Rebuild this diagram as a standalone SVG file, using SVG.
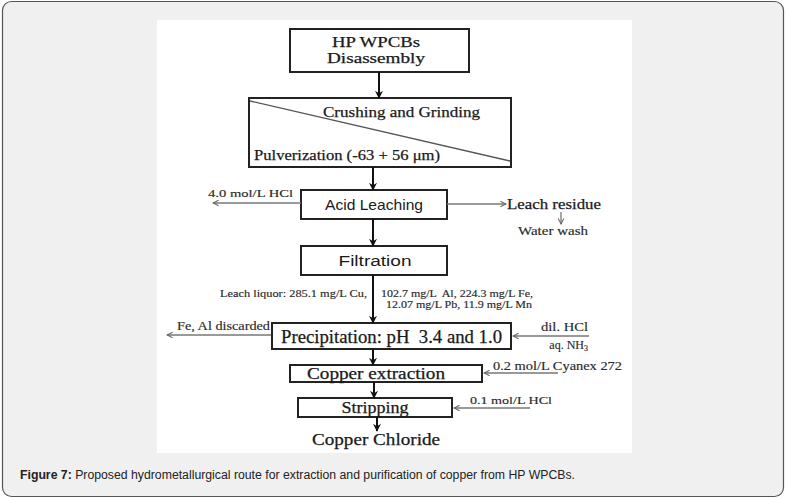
<svg xmlns="http://www.w3.org/2000/svg" width="786" height="499" viewBox="0 0 786 499">
<defs>
<marker id="ah" viewBox="0 0 10 10" refX="9" refY="5" markerWidth="8" markerHeight="8" markerUnits="userSpaceOnUse" orient="auto">
<path d="M0,0 L10,5 L0,10 L3,5 Z" fill="#111"/>
</marker>
<marker id="oh" viewBox="0 0 10 10" refX="9" refY="5" markerWidth="7" markerHeight="7" markerUnits="userSpaceOnUse" orient="auto">
<path d="M1,1 L9,5 L1,9" fill="none" stroke="#666" stroke-width="1.5"/>
</marker>
<style>
.box{fill:#fff;stroke:#222;stroke-width:2}
.main{stroke:#111;stroke-width:2;fill:none;marker-end:url(#ah)}
.side{stroke:#777;stroke-width:1.3;fill:none;marker-end:url(#oh)}
.ser{font-family:"Liberation Serif","DejaVu Serif",serif;fill:#1a1a1a;stroke:#1a1a1a;stroke-width:0.25}
.sans{font-family:"Liberation Sans","DejaVu Sans",sans-serif;fill:#1a1a1a}
.sm{font-family:"Liberation Serif","DejaVu Serif",serif;fill:#2a2a2a;stroke:#2a2a2a;stroke-width:0.15}
</style>
</defs>
<rect x="2.5" y="1.5" width="781" height="495" rx="9" fill="#f0f0f0" stroke="#555" stroke-width="1.2"/>
<rect x="157" y="20" width="475" height="433" fill="#fff"/>

<g id="n1">
<rect class="box" x="290" y="29" width="179" height="43"/>
<text class="ser" x="376" y="47" font-size="14.5" text-anchor="middle" textLength="88" lengthAdjust="spacingAndGlyphs">HP WPCBs</text>
<text class="ser" x="376" y="63" font-size="14.5" text-anchor="middle" textLength="98" lengthAdjust="spacingAndGlyphs">Disassembly</text>
</g>
<g id="n2">
<rect class="box" x="249" y="98" width="262" height="69"/>
<line x1="250" y1="101" x2="510" y2="161" stroke="#555" stroke-width="1.3"/>
<text class="ser" x="323" y="117" font-size="15.5" textLength="157" lengthAdjust="spacingAndGlyphs">Crushing and Grinding</text>
<text class="ser" x="254" y="160" font-size="15.5" textLength="186" lengthAdjust="spacingAndGlyphs">Pulverization (-63 + 56 μm)</text>
</g>
<g id="n3">
<rect class="box" x="301" y="190" width="146" height="29"/>
<text class="sans" x="374" y="210" font-size="14.5" text-anchor="middle" textLength="98" lengthAdjust="spacingAndGlyphs">Acid Leaching</text>
</g>
<g id="n4">
<rect class="box" x="301" y="246" width="146" height="29"/>
<text class="sans" x="375" y="266" font-size="15.5" text-anchor="middle" textLength="73" lengthAdjust="spacingAndGlyphs">Filtration</text>
</g>
<g id="n5">
<rect class="box" x="272" y="323" width="239" height="26"/>
<text class="ser" x="281" y="343" font-size="18" textLength="221" lengthAdjust="spacingAndGlyphs" xml:space="preserve">Precipitation: pH  3.4 and 1.0</text>
</g>
<g id="n6">
<rect class="box" x="290" y="365" width="192" height="17"/>
<text class="ser" x="307" y="379" font-size="16" textLength="138" lengthAdjust="spacingAndGlyphs">Copper extraction</text>
</g>
<g id="n7">
<rect class="box" x="298" y="398" width="154" height="19"/>
<text class="ser" x="375" y="413" font-size="16" text-anchor="middle" textLength="67" lengthAdjust="spacingAndGlyphs">Stripping</text>
</g>
<g id="n8">
<text class="ser" x="376" y="445" font-size="16.5" text-anchor="middle" textLength="128" lengthAdjust="spacingAndGlyphs">Copper Chloride</text>
</g>

<g id="labels">
<text class="sm" x="208" y="197" font-size="11" textLength="85" lengthAdjust="spacingAndGlyphs">4.0 mol/L HCl</text>
<text class="ser" x="507" y="209" font-size="14.5" textLength="94" lengthAdjust="spacingAndGlyphs">Leach residue</text>
<text class="sm" x="553" y="235" font-size="11.5" text-anchor="middle" stroke-width="0.4" textLength="70" lengthAdjust="spacingAndGlyphs">Water wash</text>
<text class="sm" x="367" y="297" font-size="10" text-anchor="end" textLength="147" lengthAdjust="spacingAndGlyphs">Leach liquor: 285.1 mg/L Cu,</text>
<text class="sm" x="381" y="297" font-size="10" textLength="152" lengthAdjust="spacingAndGlyphs" xml:space="preserve">102.7 mg/L  Al, 224.3 mg/L Fe,</text>
<text class="sm" x="386" y="308" font-size="10" textLength="146" lengthAdjust="spacingAndGlyphs">12.07 mg/L Pb, 11.9 mg/L Mn</text>
<text class="sm" x="177" y="330" font-size="11.5" textLength="93" lengthAdjust="spacingAndGlyphs">Fe, Al discarded</text>
<text class="sm" x="588" y="331" font-size="12" text-anchor="end" textLength="47" lengthAdjust="spacingAndGlyphs">dil. HCl</text>
<text class="sm" x="588" y="349" font-size="12" text-anchor="end">aq. NH<tspan font-size="8" dy="2">3</tspan></text>
<text class="sm" x="493" y="370" font-size="11.5" textLength="129" lengthAdjust="spacingAndGlyphs">0.2 mol/L Cyanex 272</text>
<text class="sm" x="470" y="404" font-size="11" textLength="82" lengthAdjust="spacingAndGlyphs">0.1 mol/L HCl</text>
</g>

<g id="connectors">
<line class="main" x1="379" y1="72" x2="379" y2="98"/>
<line class="main" x1="373" y1="167" x2="373" y2="190"/>
<line class="main" x1="373" y1="219" x2="373" y2="246"/>
<line class="main" x1="373" y1="275" x2="373" y2="323"/>
<line class="main" x1="373" y1="349" x2="373" y2="365"/>
<line class="main" x1="374" y1="382" x2="374" y2="398"/>
<line class="main" x1="377" y1="417" x2="377" y2="431"/>
<line class="side" x1="301" y1="203" x2="213" y2="203"/>
<line class="side" x1="447" y1="204" x2="506" y2="204"/>
<line class="side" x1="561" y1="212" x2="561" y2="224"/>
<line class="side" x1="271" y1="335" x2="167" y2="335"/>
<line class="side" x1="589" y1="336" x2="513" y2="336"/>
<line class="side" x1="558" y1="373" x2="484" y2="373"/>
<line class="side" x1="530" y1="408" x2="454" y2="408"/>
</g>

<text x="20" y="479" font-family="Liberation Sans, Arial, sans-serif" font-size="12" fill="#222" textLength="555" lengthAdjust="spacingAndGlyphs"><tspan font-weight="bold">Figure 7:</tspan> Proposed hydrometallurgical route for extraction and purification of copper from HP WPCBs.</text>
</svg>
